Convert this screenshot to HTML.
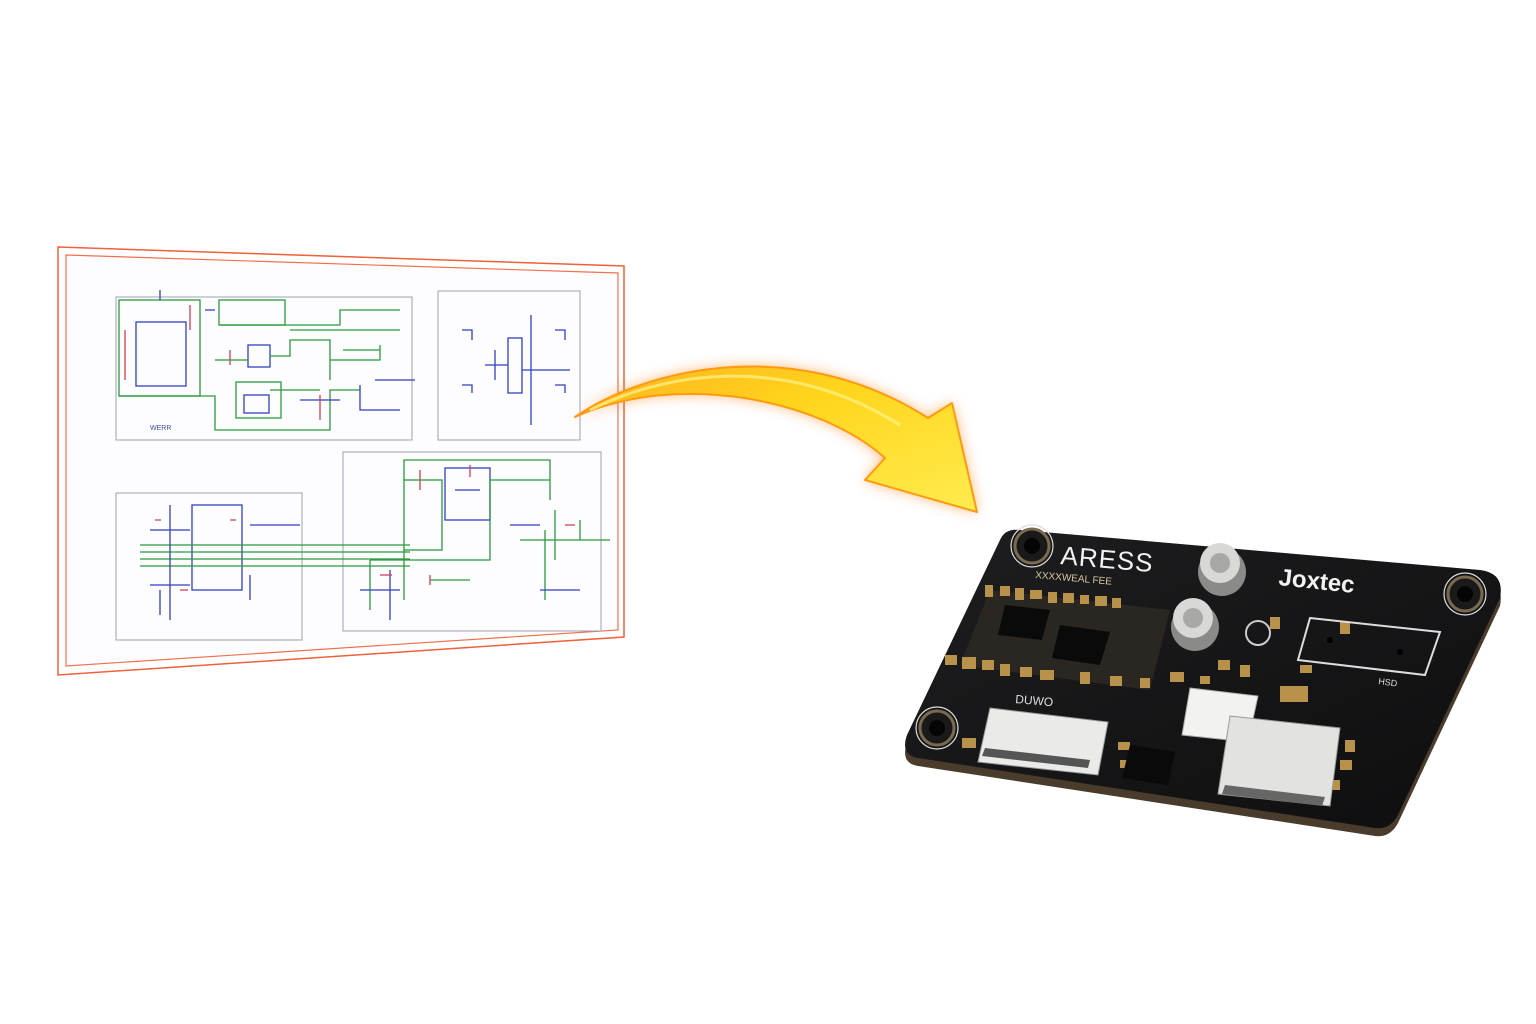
<!DOCTYPE html>
<html><head><meta charset="utf-8"><style>
html,body{margin:0;padding:0;background:#fff;width:1536px;height:1024px;overflow:hidden}
svg{display:block}
</style></head><body>
<svg width="1536" height="1024" viewBox="0 0 1536 1024" xmlns="http://www.w3.org/2000/svg">
<defs>
<linearGradient id="ag" x1="0" y1="0" x2="1" y2="1">
<stop offset="0" stop-color="#ffb020"/><stop offset="0.4" stop-color="#ffd51c"/><stop offset="1" stop-color="#ffec50"/>
</linearGradient>
<filter id="glow" x="-20%" y="-20%" width="140%" height="140%"><feGaussianBlur stdDeviation="7"/></filter>
<linearGradient id="pcb" x1="0" y1="0" x2="1" y2="1"><stop offset="0" stop-color="#1e1e20"/><stop offset="1" stop-color="#0e0e0f"/></linearGradient>
</defs>

<!-- schematic sheet -->
<polygon points="58,247 624,266 624,637 58,675" fill="#fff" stroke="#f0603a" stroke-width="1.5"/>
<polygon points="66,255 618,273 618,630 66,666" fill="#fdfdff" stroke="#f07050" stroke-width="1.2"/>

<g fill="none" stroke="#9aa0b0" stroke-width="1">
<rect x="116" y="297" width="296" height="143"/>
<rect x="438" y="291" width="142" height="149"/>
<rect x="116" y="493" width="186" height="147"/>
<rect x="343" y="452" width="258" height="179"/>
</g>
<g fill="none" stroke-width="1.3">
<rect x="119" y="300" width="81" height="96" stroke="#2a9a3a"/>
<rect x="136" y="322" width="50" height="64" stroke="#3040c0"/>
<rect x="219" y="300" width="66" height="25" stroke="#2a9a3a"/>
<rect x="248" y="345" width="22" height="22" stroke="#3040c0"/>
<rect x="236" y="382" width="45" height="36" stroke="#2a9a3a"/>
<rect x="244" y="395" width="25" height="18" stroke="#3040c0"/>
<path d="M119,396 H215 V430 H330 V390 H360 M215,360 H248 M270,356 H290 V340 H330 V380 M290,330 H400 M270,390 H320 M330,360 H380 V345 M220,325 H340 V310 H400 M343,350 H380" stroke="#2a9a3a"/>
<path d="M160,300 V290 M205,310 H215 M360,385 V410 H400 M375,380 H415 M300,400 H340" stroke="#3040c0"/>
<path d="M125,330 V380 M190,305 V330 M230,350 V365 M320,395 V420" stroke="#d04050"/>
</g>
<text x="150" y="430" font-family="Liberation Sans,sans-serif" font-size="7" fill="#4050a0">WERR</text>
<g fill="none" stroke="#3040c0" stroke-width="1.3">
<rect x="508" y="338" width="14" height="55"/>
<path d="M531,315 V425 M485,365 H508 M522,370 H570 M462,330 h10 v10 M555,330 h10 v10 M462,385 h10 v8 M555,385 h10 v8 M495,350 v30"/>
</g>
<g fill="none" stroke-width="1.3">
<rect x="192" y="505" width="50" height="85" stroke="#3040c0"/>
<path d="M140,545 H410 M140,552 H410 M140,559 H410 M140,566 H410" stroke="#2a9a3a"/>
<path d="M170,505 V620 M150,530 H190 M150,585 H190 M250,525 H300 M250,575 V600 M160,590 V615" stroke="#3040c0"/>
<path d="M155,520 h6 M230,520 h6 M180,590 h8" stroke="#d04050"/>
</g>
<g fill="none" stroke-width="1.3">
<rect x="404" y="480" width="38" height="70" stroke="#2a9a3a"/>
<rect x="445" y="468" width="45" height="52" stroke="#3040c0"/>
<path d="M404,480 V460 H550 V500 M490,480 H550 M404,550 V600 M370,560 H490 V480 M370,560 V610 M430,580 H470 M545,530 V600 M520,540 H580 V520 M555,510 V560 M580,540 H610" stroke="#2a9a3a"/>
<path d="M360,590 H400 M390,570 V620 M540,590 H580 M510,525 H540 M455,490 h25" stroke="#3040c0"/>
<path d="M420,470 v20 M470,465 v12 M565,525 h10 M380,575 h12 M430,575 v10" stroke="#d04050"/>
</g>

<!-- arrow -->
<g>
<path d="M575,417 C640,372 790,330 928,418 L952,403 L977,512 L865,480 L885,458 C820,400 680,370 575,417 Z" fill="#ff7a10" opacity="0.55" filter="url(#glow)"/>
<path d="M575,417 C640,372 790,330 928,418 L952,403 L977,512 L865,480 L885,458 C820,400 680,370 575,417 Z" fill="url(#ag)" stroke="#ff9a10" stroke-width="2" stroke-linejoin="round"/>
<path d="M590,410 C660,375 780,350 900,425" fill="none" stroke="#fff38a" stroke-width="3" opacity="0.7"/>
</g>

<!-- PCB -->
<g>
<path d="M1020,530 L1480,570 Q1505,573 1500,598 L1398,815 Q1390,830 1375,828 L918,758 Q900,755 907,735 L1000,540 Q1005,528 1020,530 Z" fill="#4a3c2c" transform="translate(0,8)"/>
<path d="M1020,530 L1480,570 Q1505,573 1500,598 L1398,815 Q1390,830 1375,828 L918,758 Q900,755 907,735 L1000,540 Q1005,528 1020,530 Z" fill="url(#pcb)"/>
<g fill="#1a1a1a" stroke="#7a6a50" stroke-width="3">
<circle cx="1032" cy="546" r="17"/><circle cx="1465" cy="594" r="17"/><circle cx="937" cy="728" r="17"/>
</g>
<g fill="none" stroke="#ddd" stroke-width="1.2"><circle cx="1032" cy="546" r="21"/><circle cx="1465" cy="594" r="21"/><circle cx="937" cy="728" r="21"/></g>
<g fill="#050505"><circle cx="1032" cy="546" r="8"/><circle cx="1465" cy="594" r="8"/><circle cx="937" cy="728" r="8"/></g>
<text x="1060" y="564" font-family="Liberation Sans,sans-serif" font-size="26" fill="#f2f2f2" transform="rotate(5 1060 564)" letter-spacing="1">ARESS</text>
<text x="1278" y="585" font-family="Liberation Sans,sans-serif" font-size="24" font-weight="bold" fill="#f2f2f2" transform="rotate(6 1278 585)">Joxtec</text>
<text x="1035" y="578" font-family="Liberation Sans,sans-serif" font-size="10" fill="#d8c8a0" transform="rotate(5 1035 578)">XXXXWEAL FEE</text>
<text x="1015" y="703" font-family="Liberation Sans,sans-serif" font-size="12" fill="#ddd" transform="rotate(5 1015 703)">DUWO</text>
<text x="1378" y="684" font-family="Liberation Sans,sans-serif" font-size="9" fill="#ddd" transform="rotate(8 1378 684)">HSD</text>
<!-- component clusters -->
<g fill="#2a2622"><polygon points="990,590 1170,610 1150,690 960,665"/></g>
<g fill="#b8924a">
<rect x="985" y="585" width="8" height="12"/><rect x="1000" y="586" width="10" height="10"/><rect x="1015" y="588" width="9" height="12"/><rect x="1030" y="590" width="12" height="9"/><rect x="1048" y="592" width="9" height="11"/><rect x="1063" y="593" width="11" height="10"/><rect x="1080" y="595" width="9" height="9"/><rect x="1095" y="596" width="12" height="10"/><rect x="1112" y="598" width="9" height="10"/>
<rect x="945" y="655" width="12" height="10"/><rect x="962" y="657" width="14" height="12"/><rect x="982" y="660" width="12" height="10"/><rect x="1000" y="664" width="10" height="12"/><rect x="1020" y="667" width="12" height="10"/><rect x="1040" y="670" width="14" height="10"/><rect x="1080" y="672" width="10" height="12"/><rect x="1110" y="676" width="12" height="10"/><rect x="1140" y="678" width="10" height="10"/>
<rect x="1170" y="672" width="14" height="10"/><rect x="1218" y="660" width="12" height="10"/><rect x="1240" y="665" width="10" height="12"/><rect x="1200" y="676" width="10" height="8"/>
<rect x="1280" y="686" width="28" height="16"/><rect x="1345" y="740" width="10" height="12"/><rect x="1340" y="760" width="12" height="10"/><rect x="1330" y="780" width="10" height="10"/>
<rect x="962" y="738" width="14" height="10"/><rect x="1118" y="742" width="12" height="8"/><rect x="1120" y="760" width="12" height="8"/><rect x="1270" y="617" width="10" height="12"/><rect x="1340" y="622" width="10" height="12"/><rect x="1300" y="665" width="12" height="8"/>
</g>
<g fill="#0a0a0a">
<polygon points="1005,605 1050,610 1042,640 998,635"/>
<polygon points="1060,625 1110,632 1100,665 1052,658"/>
<polygon points="1130,745 1175,752 1168,785 1122,778"/>
</g>
<polygon points="1310,618 1440,632 1425,675 1298,660" fill="none" stroke="#ddd" stroke-width="2"/>
<circle cx="1330" cy="640" r="3" fill="#000"/><circle cx="1400" cy="652" r="3" fill="#000"/>
<circle cx="1258" cy="633" r="12" fill="none" stroke="#ccc" stroke-width="2"/>
<g>
<circle cx="1222" cy="572" r="24" fill="#8a8a88"/><circle cx="1220" cy="563" r="20" fill="#d8d8d6"/><circle cx="1220" cy="563" r="10" fill="#a8a8a6"/>
<circle cx="1195" cy="627" r="24" fill="#8a8a88"/><circle cx="1193" cy="618" r="20" fill="#d8d8d6"/><circle cx="1193" cy="618" r="10" fill="#a8a8a6"/>
</g>
<polygon points="990,708 1108,722 1098,775 978,762" fill="#eaeae8" stroke="#999"/>
<polygon points="985,748 1090,760 1088,768 982,756" fill="#555"/>
<polygon points="1190,688 1258,696 1248,742 1182,735" fill="#f2f2f0" stroke="#aaa"/>
<polygon points="1230,716 1340,728 1330,806 1218,794" fill="#e2e2e0" stroke="#999"/>
<polygon points="1225,785 1325,797 1322,806 1222,794" fill="#666"/>
</g>
</svg>
</body></html>
